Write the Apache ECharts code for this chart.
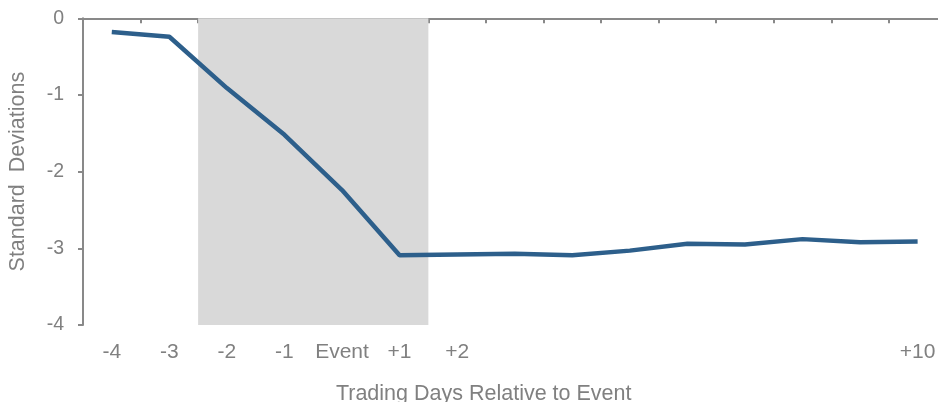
<!DOCTYPE html>
<html>
<head>
<meta charset="utf-8">
<script src="https://cdn.jsdelivr.net/npm/echarts@6/dist/echarts.min.js"></script>
<style>html,body{margin:0;padding:0;background:#fff;}#c{width:938px;height:402px;}</style>
</head>
<body>
<div id="c"></div>
<script>
const categories = ["-4","-3","-2","-1","Event","+1","+2","+3","+4","+5","+6","+7","+8","+9","+10"];
const tickLabels = ["-4","-3","-2","-1","Event","+1","+2","","","","","","","","+10"];
const values = [-0.18,-0.24,-0.91,-1.52,-2.24,-3.09,-3.08,-3.07,-3.09,-3.03,-2.94,-2.95,-2.88,-2.92,-2.91];
const shadeFrom = 2;   // boundary between -3 and -2 (in category-width units)
const shadeTo = 6;     // boundary between +1 and +2

const gray = '#808080';
const axisGray = '#898989';
const font = 'Liberation Sans, Arial, sans-serif';

const chart = echarts.init(document.getElementById('c'));
chart.setOption({
  animation: false,
  grid: {left: 83, top: 18.3, width: 863.4, height: 306.7, containLabel: false, outerBoundsMode: 'none'},
  xAxis: [
    {
      type: 'category', data: categories, position: 'bottom',
      axisLine: {show: false}, axisTick: {show: false},
      axisLabel: {
        interval: 0, margin: 17, color: gray, fontSize: 21, fontFamily: font,
        formatter: (v, i) => tickLabels[i]
      },
      name: 'Trading Days Relative to Event', nameLocation: 'middle', nameGap: 58,
      nameTextStyle: {color: gray, fontSize: 21.5, fontFamily: font, padding: [0, 62, 0, 0]}
    },
    {
      type: 'category', data: categories, position: 'top',
      axisLine: {show: true, onZero: false, lineStyle: {color: axisGray, width: 2}},
      axisTick: {show: true, inside: true, length: 5, lineStyle: {color: axisGray, width: 2}},
      axisLabel: {show: false}
    },
    {
      type: 'value', min: 0, max: categories.length, show: false
    }
  ],
  yAxis: {
    type: 'value', min: -4, max: 0, interval: 1,
    axisLine: {show: true, lineStyle: {color: axisGray, width: 2}},
    axisTick: {show: true, length: 5, lineStyle: {color: axisGray, width: 2}},
    splitLine: {show: false},
    axisLabel: {color: gray, fontSize: 19.5, fontFamily: font, margin: 19},
    name: 'Standard  Deviations', nameLocation: 'middle', nameGap: 54,
    nameTextStyle: {color: gray, fontSize: 21.5, fontFamily: font}
  },
  series: [
    {
      type: 'line', xAxisIndex: 2, data: [], z: 1,
      markArea: {
        silent: true,
        itemStyle: {color: '#d9d9d9'},
        data: [[{xAxis: shadeFrom}, {xAxis: shadeTo}]]
      }
    },
    {
      type: 'line', xAxisIndex: 0, data: values, z: 5,
      symbol: 'none',
      lineStyle: {color: '#2D5F8B', width: 4.5}
    }
  ]
});
</script>
</body>
</html>
